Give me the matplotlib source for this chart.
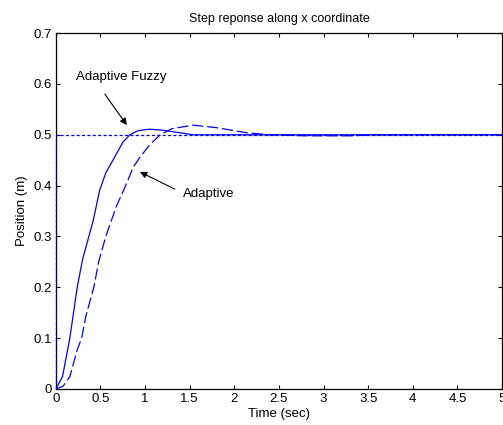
import matplotlib
matplotlib.use("Agg")
import matplotlib.pyplot as plt

plt.rcParams["font.family"] = ["Liberation Sans", "DejaVu Sans"]

# reference step
ref_t = [0, 0, 5]
ref_y = [0, 0.5, 0.5]

# adaptive fuzzy response (solid)
fuzzy_t = [0, 0.075, 0.157, 0.24, 0.30, 0.37, 0.42, 0.49, 0.56, 0.64, 0.75,
           0.83, 0.92, 1.05, 1.2, 1.35, 1.54, 2.0, 5.0]
fuzzy_y = [0, 0.024, 0.1, 0.2, 0.255, 0.3, 0.332, 0.39, 0.425, 0.45, 0.485,
           0.5, 0.508, 0.511, 0.509, 0.505, 0.5, 0.5, 0.5]

# adaptive response (dashed)
adapt_t = [0, 0.08, 0.157, 0.24, 0.29, 0.336, 0.426, 0.48, 0.56, 0.63, 0.68,
           0.77, 0.87, 0.94, 1.05, 1.17, 1.3, 1.54, 1.8, 2.14, 2.4, 2.8, 3.3,
           3.6, 5.0]
adapt_y = [0, 0.005, 0.024, 0.077, 0.1, 0.143, 0.2, 0.25, 0.3, 0.335, 0.36,
           0.395, 0.437, 0.455, 0.48, 0.5, 0.512, 0.519, 0.514, 0.504, 0.5,
           0.498, 0.498, 0.5, 0.5]

fig = plt.figure(figsize=(5.03, 4.25), dpi=100)
ax = fig.add_axes([0.111, 0.085, 0.887, 0.837])

ax.plot(ref_t, ref_y, color="blue", lw=0.9, linestyle=(0, (2.5, 1.8)),
        zorder=3, clip_on=False)
ax.plot(fuzzy_t, fuzzy_y, color="blue", lw=0.9, zorder=4)
ax.plot(adapt_t, adapt_y, color="blue", lw=0.9, linestyle=(0, (9, 3)), zorder=4)

ax.set_xlim(0, 5)
ax.set_ylim(0, 0.7)
ax.set_xticks([0, 0.5, 1, 1.5, 2, 2.5, 3, 3.5, 4, 4.5, 5])
ax.set_xticklabels(["0", "0.5", "1", "1.5", "2", "2.5", "3", "3.5", "4", "4.5", "5"])
ax.set_yticks([0, 0.1, 0.2, 0.3, 0.4, 0.5, 0.6, 0.7])
ax.set_yticklabels(["0", "0.1", "0.2", "0.3", "0.4", "0.5", "0.6", "0.7"])
ax.tick_params(direction="in", length=3, width=0.8, top=True, right=True,
               labelsize=9.5, colors="black", pad=3)
for s in ax.spines.values():
    s.set_linewidth(0.9)

ax.set_title("Step reponse along x coordinate", fontsize=9, pad=8)
ax.set_xlabel("Time (sec)", fontsize=9.5, labelpad=2)
ax.set_ylabel("Position (m)", fontsize=9.5, labelpad=4)

ax.text(0.224, 0.613, "Adaptive Fuzzy", fontsize=9.5, ha="left", va="center")
ax.annotate("", xy=(0.796, 0.519), xytext=(0.549, 0.580),
            arrowprops=dict(arrowstyle="-|>", color="black", lw=0.8,
                            mutation_scale=10, shrinkA=0, shrinkB=0))
ax.text(1.424, 0.383, "Adaptive", fontsize=9.5, ha="left", va="center")
ax.annotate("", xy=(0.942, 0.427), xytext=(1.334, 0.393),
            arrowprops=dict(arrowstyle="-|>", color="black", lw=0.8,
                            mutation_scale=10, shrinkA=0, shrinkB=0))

fig.savefig("out.png", dpi=100)
